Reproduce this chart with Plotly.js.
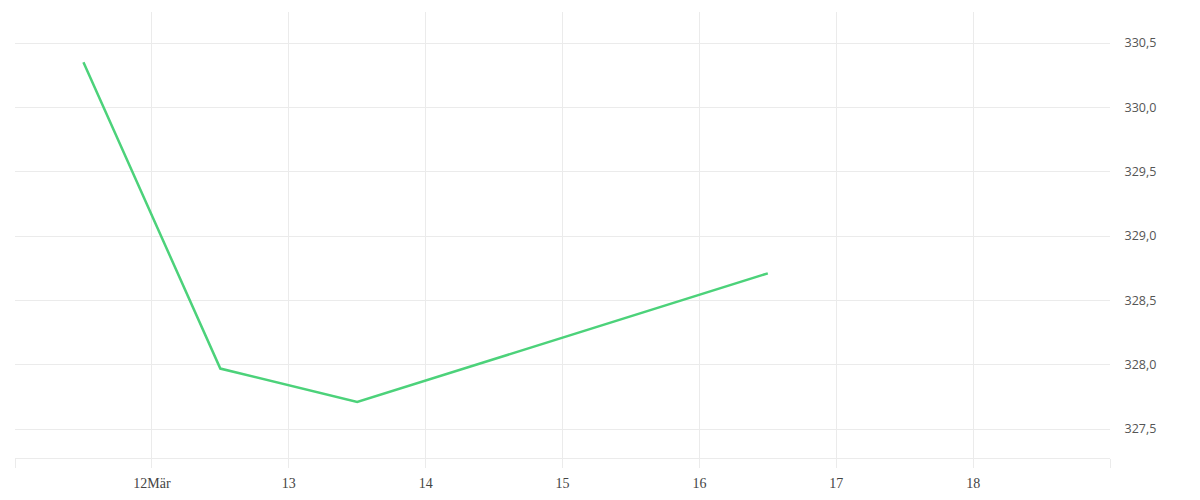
<!DOCTYPE html>
<html>
<head>
<meta charset="utf-8">
<script src="https://cdn.plot.ly/plotly-3.0.1.min.js"></script>
<style>html,body{margin:0;padding:0;background:#fff}#chart{width:1200px;height:500px}</style>
</head>
<body>
<div id="chart"></div>
<script>
const dates = ["2024-03-11 12:00", "2024-03-12 12:00", "2024-03-13 12:00", "2024-03-16 12:00"];
const prices = [330.35, 327.97, 327.71, 328.71];
const tickDates = ["2024-03-11", "2024-03-12", "2024-03-13", "2024-03-14", "2024-03-15", "2024-03-16", "2024-03-17", "2024-03-18", "2024-03-19"];
const tickLabels = ["", "12Mär", "13", "14", "15", "16", "17", "18", ""];
const yTicks = [327.5, 328.0, 328.5, 329.0, 329.5, 330.0, 330.5];

const grid = '#ebebeb';
Plotly.newPlot('chart', [{
  x: dates, y: prices, type: 'scatter', mode: 'lines',
  line: {color: '#4cd27a', width: 2.5}, hoverinfo: 'skip'
}], {
  width: 1200, height: 500,
  margin: {l: 15, r: 90, t: 12, b: 42},
  paper_bgcolor: '#fff', plot_bgcolor: '#fff',
  separators: ',.',
  showlegend: false,
  font: {family: 'Liberation Serif, serif', size: 14, color: '#444'},
  xaxis: {
    type: 'date', range: ['2024-03-11', '2024-03-19'],
    tickmode: 'array', tickvals: tickDates, ticktext: tickLabels,
    tickfont: {family: 'Liberation Serif, serif', size: 14, color: '#444'},
    showgrid: true, gridcolor: grid, gridwidth: 1,
    ticks: 'outside', ticklen: 9, tickcolor: grid, ticklabelstandoff: 3,
    showline: true, linecolor: grid, linewidth: 1,
    zeroline: false, fixedrange: true
  },
  yaxis: {
    side: 'right', range: [327.275, 330.741],
    tickmode: 'array', tickvals: yTicks, tickformat: '.1f',
    tickfont: {family: 'Open Sans, sans-serif', size: 12.5, color: '#555'},
    showgrid: true, gridcolor: grid, gridwidth: 1,
    ticks: 'outside', ticklen: 11, tickcolor: 'rgba(0,0,0,0)',
    zeroline: false, showline: false, fixedrange: true
  }
}, {displayModeBar: false, staticPlot: true});
</script>
</body>
</html>
